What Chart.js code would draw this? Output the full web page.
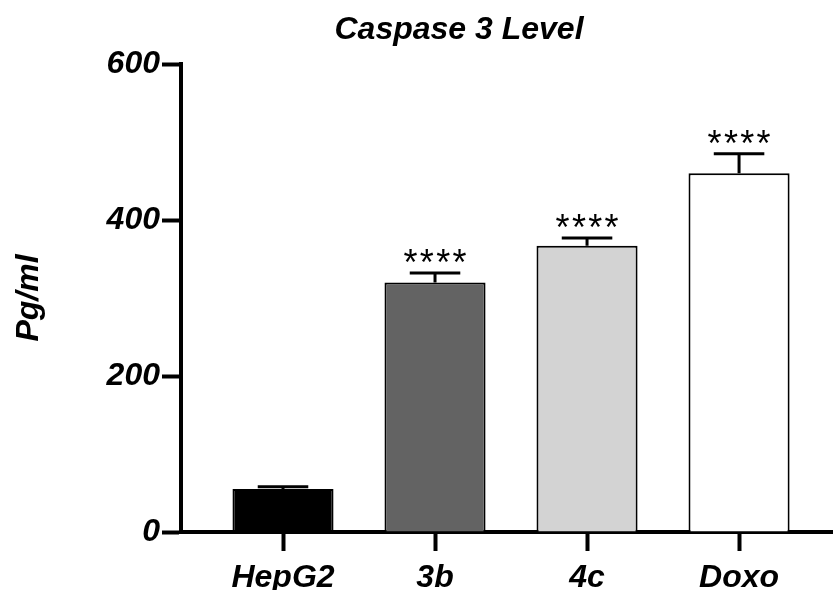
<!DOCTYPE html>
<html>
<head>
<meta charset="utf-8">
<script src="https://cdn.jsdelivr.net/npm/chart.js@4/dist/chart.umd.min.js"></script>
<style>
    html, body { margin: 0; padding: 0; background: #fff; }
    #box { width: 833px; height: 590px; }
</style>
</head>
<body>
<div id="box"><canvas id="caspase"></canvas></div>
<script>
    var categories = ['HepG2', '3b', '4c', 'Doxo'];
    var means = [55, 320, 367, 460];
    var errors = [3, 12, 10, 25];
    var stars = ['', '****', '****', '****'];
    var fills = ['#000000', '#636363', '#d3d3d3', '#ffffff'];
    var yTicks = [0, 200, 400, 600];
    var chartTitle = 'Caspase 3 Level';

    var fontFamily = 'Arial, "Liberation Sans", Helvetica, sans-serif';

    // error bars (upper only), significance stars and the title
    var errorBarPlugin = {
        id: 'errorBars',
        afterDatasetsDraw: function (chart) {
            var ctx = chart.ctx;
            var yScale = chart.scales.y;
            var bars = chart.getDatasetMeta(0).data;
            ctx.save();
            ctx.strokeStyle = '#000';
            ctx.lineWidth = 3;
            for (var i = 0; i < bars.length; i++) {
                var bar = bars[i];
                var topPx = yScale.getPixelForValue(means[i] + errors[i]);
                var half = bar.width / 4;
                ctx.beginPath();
                ctx.moveTo(bar.x, bar.y);
                ctx.lineTo(bar.x, topPx);
                ctx.moveTo(bar.x - half, topPx);
                ctx.lineTo(bar.x + half, topPx);
                ctx.stroke();

                if (stars[i]) {
                    ctx.fillStyle = '#000';
                    ctx.font = '36px ' + fontFamily;
                    ctx.textAlign = 'center';
                    ctx.textBaseline = 'alphabetic';
                    var n = stars[i].length;
                    for (var k = 0; k < n; k++) {
                        var sx = bar.x + (k - (n - 1) / 2) * 16.3;
                        ctx.fillText('*', sx, topPx + 2);
                    }
                }
            }

            // title sits a bit left of the plot centre, like the original
            ctx.fillStyle = '#000';
            ctx.font = 'italic bold 32px ' + fontFamily;
            ctx.textAlign = 'center';
            ctx.textBaseline = 'alphabetic';
            ctx.fillText(chartTitle, 459, 39);
            ctx.restore();
        }
    };

    var points = [];
    for (var i = 0; i < categories.length; i++) {
        points.push({ x: i, y: means[i] });
    }

    var labelFont = { family: fontFamily, size: 32, weight: 'bold', style: 'italic' };

    var ctx = document.getElementById('caspase').getContext('2d');
    var chart = new Chart(ctx, {
        type: 'bar',
        data: {
            datasets: [{
                data: points,
                backgroundColor: fills,
                borderColor: '#000',
                borderWidth: 2,
                barPercentage: 0.665,
                categoryPercentage: 1
            }]
        },
        options: {
            responsive: true,
            maintainAspectRatio: false,
            animation: false,
            layout: { padding: { top: 64, left: 0, right: 0, bottom: 0 } },
            plugins: {
                legend: { display: false },
                tooltip: { enabled: false },
                title: { display: false }
            },
            scales: {
                x: {
                    type: 'linear',
                    min: -0.671,
                    max: 3.618,
                    offset: false,
                    afterBuildTicks: function (scale) {
                        scale.ticks = categories.map(function (c, idx) { return { value: idx }; });
                    },
                    afterFit: function (scale) { scale.height = 58; },
                    border: { display: true, color: '#000', width: 4 },
                    grid: {
                        offset: false,
                        drawOnChartArea: false,
                        drawTicks: true,
                        tickLength: 19,
                        tickWidth: 4,
                        tickColor: '#000'
                    },
                    ticks: {
                        autoSkip: false,
                        maxRotation: 0,
                        padding: 8,
                        color: '#000',
                        font: labelFont,
                        callback: function (v) { return categories[v] !== undefined ? categories[v] : ''; }
                    }
                },
                y: {
                    min: 0,
                    max: 600,
                    afterBuildTicks: function (scale) {
                        scale.ticks = yTicks.map(function (v) { return { value: v }; });
                    },
                    afterFit: function (scale) { scale.width = 181; },
                    border: { display: true, color: '#000', width: 4 },
                    grid: {
                        drawOnChartArea: false,
                        drawTicks: true,
                        tickLength: 19,
                        tickWidth: 4,
                        tickColor: '#000'
                    },
                    ticks: {
                        padding: 2,
                        color: '#000',
                        font: labelFont
                    },
                    title: {
                        display: true,
                        text: 'Pg/ml',
                        color: '#000',
                        padding: { top: 10, bottom: 0 },
                        font: labelFont
                    }
                }
            }
        },
        plugins: [errorBarPlugin]
    });
</script>
</body>
</html>
